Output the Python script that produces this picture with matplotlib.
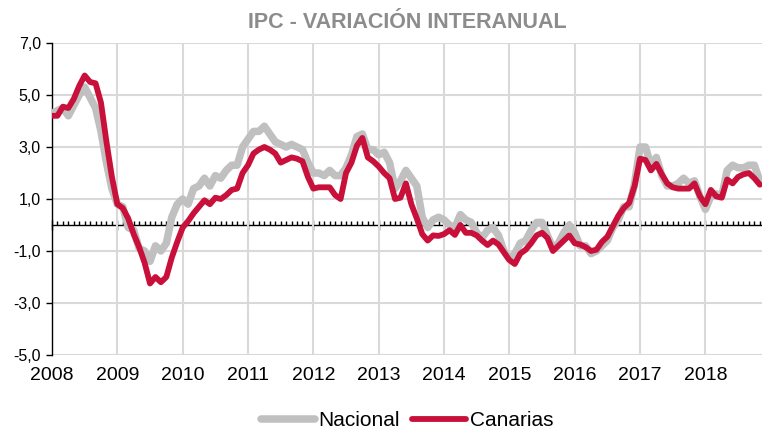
import matplotlib
matplotlib.use("Agg")
import matplotlib.pyplot as plt
import numpy as np

plt.rcParams['font.family'] = ['Liberation Sans', 'DejaVu Sans']

# ---- data (monthly, Jan 2008 .. Nov 2018) ----
years = [str(y) for y in range(2008, 2019)]
nacional = [
    4.3, 4.4, 4.5, 4.2, 4.6, 5.0, 5.3, 4.9, 4.5, 3.6, 2.4, 1.4,      # 2008
    0.8, 0.7, -0.1, -0.2, -0.9, -1.0, -1.4, -0.8, -1.0, -0.7, 0.3, 0.8,  # 2009
    1.0, 0.8, 1.4, 1.5, 1.8, 1.5, 1.9, 1.8, 2.1, 2.3, 2.3, 3.0,      # 2010
    3.3, 3.6, 3.6, 3.8, 3.5, 3.2, 3.1, 3.0, 3.1, 3.0, 2.9, 2.4,      # 2011
    2.0, 2.0, 1.9, 2.1, 1.9, 1.9, 2.2, 2.7, 3.4, 3.5, 2.9, 2.9,      # 2012
    2.7, 2.8, 2.4, 1.4, 1.7, 2.1, 1.8, 1.5, 0.3, -0.1, 0.2, 0.3,     # 2013
    0.2, 0.0, -0.1, 0.4, 0.2, 0.1, -0.3, -0.5, -0.2, -0.1, -0.4, -1.0,  # 2014
    -1.3, -1.1, -0.7, -0.6, -0.2, 0.1, 0.1, -0.4, -0.9, -0.7, -0.3, 0.0,  # 2015
    -0.3, -0.8, -0.8, -1.1, -1.0, -0.8, -0.6, -0.1, 0.2, 0.7, 0.7, 1.6,  # 2016
    3.0, 3.0, 2.3, 2.6, 1.9, 1.5, 1.5, 1.6, 1.8, 1.6, 1.7, 1.1,      # 2017
    0.6, 1.1, 1.2, 1.1, 2.1, 2.3, 2.2, 2.2, 2.3, 2.3, 1.7,           # 2018
]
canarias = [
    4.2, 4.2, 4.55, 4.5, 4.85, 5.35, 5.75, 5.5, 5.45, 4.7, 3.2, 1.85,   # 2008
    0.8, 0.65, 0.25, -0.35, -0.85, -1.45, -2.25, -2.0, -2.2, -2.0, -1.25, -0.65,  # 2009
    -0.1, 0.15, 0.45, 0.7, 0.95, 0.8, 1.05, 1.0, 1.15, 1.35, 1.4, 2.0,  # 2010
    2.3, 2.75, 2.9, 3.0, 2.9, 2.75, 2.4, 2.5, 2.6, 2.55, 2.45, 1.85,   # 2011
    1.4, 1.45, 1.45, 1.45, 1.15, 1.0, 2.0, 2.4, 3.05, 3.35, 2.6, 2.45,  # 2012
    2.25, 2.0, 1.8, 1.0, 1.05, 1.6, 0.8, 0.25, -0.35, -0.6, -0.4, -0.42,  # 2013
    -0.35, -0.2, -0.38, 0.0, -0.3, -0.3, -0.4, -0.6, -0.77, -0.6, -0.75, -1.05,  # 2014
    -1.35, -1.5, -1.1, -0.95, -0.7, -0.4, -0.3, -0.5, -1.0, -0.8, -0.6, -0.4,  # 2015
    -0.7, -0.75, -0.85, -1.0, -0.95, -0.65, -0.45, -0.05, 0.35, 0.65, 0.85, 1.5,  # 2016
    2.55, 2.5, 2.1, 2.35, 1.95, 1.6, 1.45, 1.4, 1.4, 1.4, 1.6, 1.1,    # 2017
    0.8, 1.35, 1.1, 1.05, 1.75, 1.6, 1.85, 1.95, 2.0, 1.8, 1.55,       # 2018
]
yticks = [-5, -3, -1, 1, 3, 5, 7]
ytick_labels = ["-5,0", "-3,0", "-1,0", "1,0", "3,0", "5,0", "7,0"]

months = np.arange(len(nacional))
year_pos = np.arange(0, len(nacional), 12)

GRAY = '#C0C0C0'
RED = '#C8103A'
GRID = '#D9D9D9'

fig = plt.figure(figsize=(7.62, 4.32), dpi=100)
ax = fig.add_axes([52/762, 1-355/432, 1-52/762, (355-43)/432])

ax.plot(months, nacional, color=GRAY, lw=5.4, solid_joinstyle='round',
        solid_capstyle='round', label='Nacional', zorder=3)
ax.plot(months, canarias, color=RED, lw=4.2, solid_joinstyle='round',
        solid_capstyle='round', label='Canarias', zorder=4)

ax.set_xlim(0, len(nacional) - 0.6)
ax.set_ylim(-5, 7)
ax.set_yticks(yticks)
ax.set_yticklabels(ytick_labels)
ax.set_xticks(year_pos)
ax.set_xticklabels(years)

ax.grid(True, color=GRID, lw=1.5, zorder=0)
ax.set_axisbelow(True)
for s in ['top', 'right', 'bottom']:
    ax.spines[s].set_visible(False)
ax.spines['left'].set_color('black')
ax.spines['left'].set_linewidth(1.0)
ax.tick_params(axis='x', length=0, pad=9, labelsize=14, colors='#000000')
ax.tick_params(axis='y', length=4, width=1, direction='out', pad=4,
               labelsize=11.5, colors='black')

# zero line with month ticks
sec = ax.secondary_xaxis(5/12)
sec.spines['bottom'].set_color('black')
sec.spines['bottom'].set_linewidth(1.0)
sec.set_xticks(year_pos)
sec.set_xticks(months, minor=True)
sec.tick_params(axis='x', which='major', direction='inout', length=7, width=1,
                labelbottom=False, color='black')
sec.tick_params(axis='x', which='minor', direction='in', length=3, width=1,
                labelbottom=False, color='black')

fig.text((52 + 762) / 2 / 762, 1 - 22/432, 'IPC - VARIACIÓN INTERANUAL',
         ha='center', va='center', fontsize=15.5, fontweight='bold',
         color='#8C8C8C')

fig.legend(loc='center', bbox_to_anchor=(407/762, 1 - 421/432), ncol=2,
           frameon=False, fontsize=15, handlelength=2.6, handletextpad=0.15,
           columnspacing=0.6)

fig.savefig('out.png', dpi=100)
